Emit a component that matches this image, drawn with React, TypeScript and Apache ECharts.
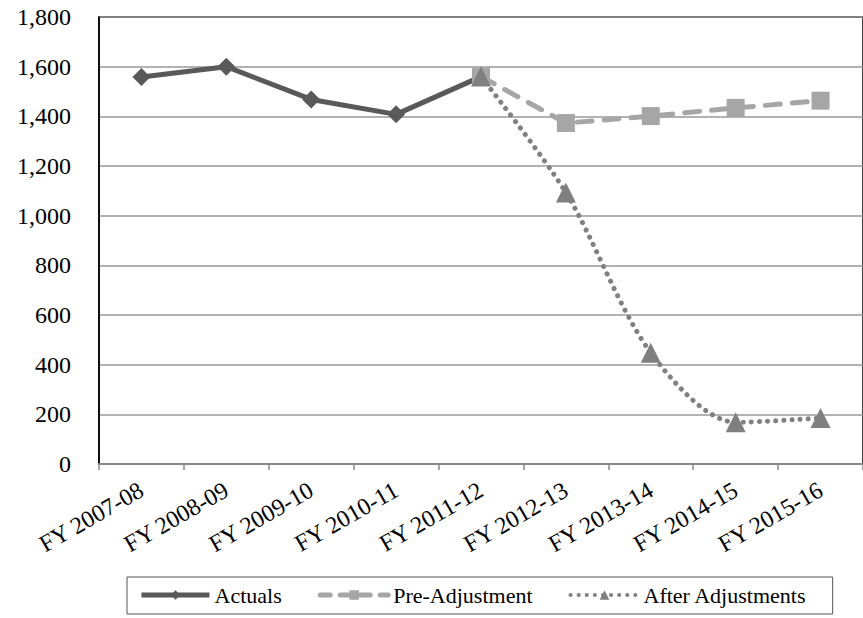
import React, { useEffect, useRef } from "react";
import * as echarts from "echarts";

const categories = [
  "FY 2007-08",
  "FY 2008-09",
  "FY 2009-10",
  "FY 2010-11",
  "FY 2011-12",
  "FY 2012-13",
  "FY 2013-14",
  "FY 2014-15",
  "FY 2015-16",
];
const actuals = [1558, 1600, 1468, 1408, 1560, null, null, null, null];
const preAdjustment = [null, null, null, null, 1560, 1373, 1401, 1434, 1463];
const afterAdjustments = [null, null, null, null, 1560, 1093, 448, 168, 185];

const FONT = "'Liberation Serif', 'Times New Roman', serif";

export default function App() {
  const ref = useRef<HTMLDivElement>(null);
  useEffect(() => {
    if (!ref.current) return;
    const chart = echarts.init(ref.current, null, { renderer: "svg" });
    chart.setOption({
      animation: false,
      backgroundColor: "#ffffff",
      grid: {
        left: 99,
        top: 17,
        right: -4,
        bottom: 154,
        show: true,
        borderColor: "#000000",
        borderWidth: 1.5,
        containLabel: false,
      },
      xAxis: {
        type: "category",
        data: categories,
        boundaryGap: true,
        axisLine: { show: true, lineStyle: { color: "#888888", width: 2 } },
        axisTick: { show: true, length: 6, lineStyle: { color: "#888888", width: 1.5 } },
        axisLabel: {
          rotate: 30,
          margin: 24,
          fontSize: 24,
          fontFamily: FONT,
          color: "#000000",
          interval: 0,
        },
        splitLine: { show: false },
      },
      yAxis: {
        type: "value",
        min: 0,
        max: 1800,
        interval: 200,
        axisLine: { show: true, lineStyle: { color: "#000000", width: 1.5 } },
        axisTick: { show: false },
        axisLabel: {
          margin: 28,
          fontSize: 24,
          fontFamily: FONT,
          color: "#000000",
          formatter: (v: number) => v.toLocaleString("en-US"),
        },
        splitLine: { show: true, lineStyle: { color: "#999999", width: 1.5 } },
      },
      legend: {
        left: 127,
        top: 577,
        padding: [7, 26, 8, 12],
        itemGap: 36,
        itemWidth: 68,
        itemHeight: 12,
        borderColor: "#555555",
        borderWidth: 1,
        textStyle: { fontSize: 22, fontFamily: FONT, color: "#000000" },
        data: [
          { name: "Actuals", lineStyle: { width: 5 } },
          { name: "Pre-Adjustment", lineStyle: { width: 5, type: [10, 10], cap: "round" } },
          { name: "After Adjustments", lineStyle: { width: 4, type: [0.1, 8], cap: "round" } },
        ],
      },
      series: [
        {
          name: "Actuals",
          type: "line",
          data: actuals,
          symbol: "diamond",
          symbolSize: 18,
          itemStyle: { color: "#595959" },
          lineStyle: { color: "#595959", width: 5 },
          z: 2,
        },
        {
          name: "Pre-Adjustment",
          type: "line",
          data: preAdjustment,
          symbol: "rect",
          symbolSize: 18,
          itemStyle: { color: "#A6A6A6" },
          lineStyle: { color: "#A6A6A6", width: 5, type: [15, 12], cap: "round" },
          z: 3,
        },
        {
          name: "After Adjustments",
          type: "line",
          data: afterAdjustments,
          symbol: "triangle",
          symbolSize: 20,
          smooth: 0.3,
          itemStyle: { color: "#808080" },
          lineStyle: { color: "#808080", width: 5, type: [0.1, 8], cap: "round" },
          z: 4,
        },
      ],
    });
    return () => chart.dispose();
  }, []);
  return (
    <div
      ref={ref}
      style={{ position: "absolute", left: 0, top: 0, width: 863, height: 618 }}
    />
  );
}
